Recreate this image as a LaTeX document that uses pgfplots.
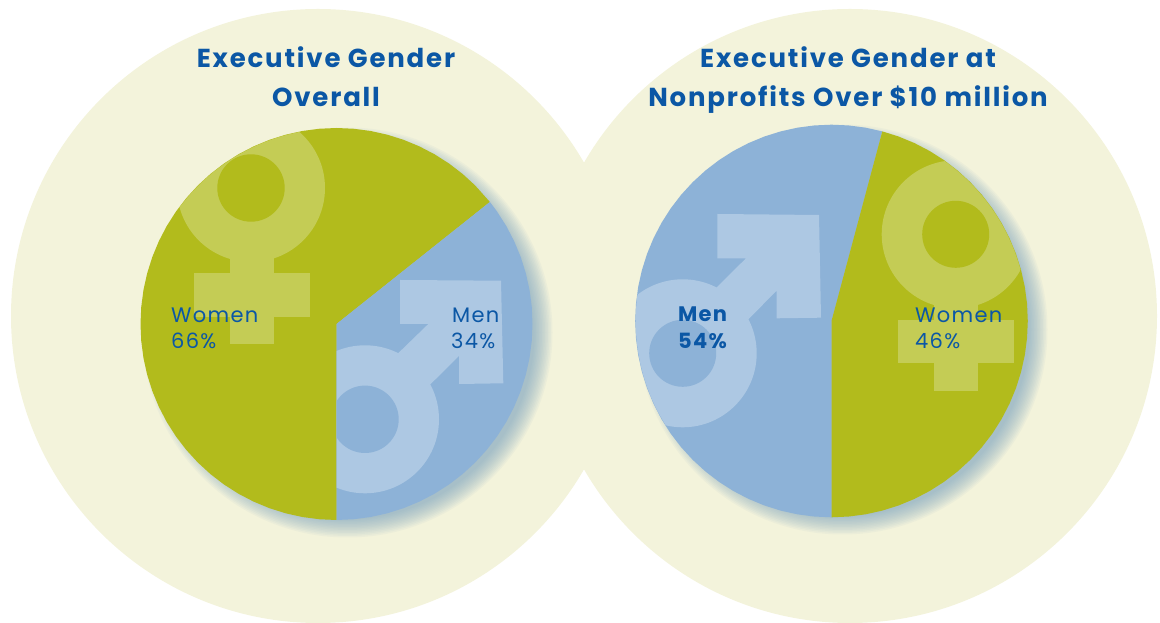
\documentclass[border=0pt]{standalone}
\usepackage{pgfplots}
\pgfplotsset{compat=1.18}
\usepackage{fontspec}
\setmainfont{Poppins}
\newfontfamily\ttl[LetterSpace=7]{Poppins}
\newfontfamily\lbl[LetterSpace=6]{Poppins}
\definecolor{bgc}{HTML}{F3F3DB}
\definecolor{gr}{HTML}{B2BB1C}
\definecolor{bl}{HTML}{8DB2D7}
\definecolor{lbl}{HTML}{ADC8E3}
\definecolor{lgr}{HTML}{C4CC55}
\definecolor{tx}{HTML}{0B57A5}
\definecolor{sh}{HTML}{6F9DBE}
\pgfplotstableread{
a r
0 0
38.5 196 
45 196 
50 196 
55 196 
60 196 
65 196 
70 196 
75 196 
80 196 
85 196 
90 196 
95 196 
100 196 
105 196 
110 196 
115 196 
120 196 
125 196 
130 196 
135 196 
140 196 
145 196 
150 196 
155 196 
160 196 
165 196 
170 196 
175 196 
180 196 
185 196 
190 196 
195 196 
200 196 
205 196 
210 196 
215 196 
220 196 
225 196 
230 196 
235 196 
240 196 
245 196 
250 196 
255 196 
260 196 
265 196 
270 196 
}\LeftWomen
\pgfplotstableread{
a r
0 0
270 196 
275 196 
280 196 
285 196 
290 196 
295 196 
300 196 
305 196 
310 196 
315 196 
320 196 
325 196 
330 196 
335 196 
340 196 
345 196 
350 196 
355 196 
360 196 
365 196 
370 196 
375 196 
380 196 
385 196 
390 196 
395 196 
398.5 196 
}\LeftMen
\pgfplotstableread{
a r
0 0
75 196.3
80 196.3
85 196.3
90 196.3
95 196.3
100 196.3
105 196.3
110 196.3
115 196.3
120 196.3
125 196.3
130 196.3
135 196.3
140 196.3
145 196.3
150 196.3
155 196.3
160 196.3
165 196.3
170 196.3
175 196.3
180 196.3
185 196.3
190 196.3
195 196.3
200 196.3
205 196.3
210 196.3
215 196.3
220 196.3
225 196.3
230 196.3
235 196.3
240 196.3
245 196.3
250 196.3
255 196.3
260 196.3
265 196.3
270 196.3
}\RightMen
\pgfplotstableread{
a r
0 0
270 196.3
275 196.3
280 196.3
285 196.3
290 196.3
295 196.3
300 196.3
305 196.3
310 196.3
315 196.3
320 196.3
325 196.3
330 196.3
335 196.3
340 196.3
345 196.3
350 196.3
355 196.3
360 196.3
365 196.3
370 196.3
375 196.3
380 196.3
385 196.3
390 196.3
395 196.3
400 196.3
405 196.3
410 196.3
415 196.3
420 196.3
425 196.3
430 196.3
435 196.3
}\RightWomen
\newcommand{\disc}[4]{\addplot[only marks,mark=*,mark size=#1pt,mark options={draw opacity=0,line width=0pt,fill=#2,fill opacity=#4}] coordinates {#3};}
\newcommand{\poly}[2]{\addplot[draw=none,fill=#1] coordinates {#2} --cycle;}
\begin{document}
\begin{tikzpicture}
\path[use as bounding box] (0,0) rectangle (1160pt,623pt);
\begin{axis}[at={(0,0)},anchor=south west,scale only axis,width=1160pt,height=623pt,xmin=0,xmax=1160,ymin=-623,ymax=0,hide axis,clip mode=individual]
% background circles
\disc{307}{bgc}{(318,-316)}{1}
\disc{307}{bgc}{(850,-316)}{1}
% shadows
\foreach \rr in {205,203.5,202,200.5,199,197.5,196,194.5,193,191.5,190,188.5,187}{
  \edef\tmp{\noexpand\disc{\rr}{sh}{(347.5,-332.5)}{0.06}}\tmp
  \edef\tmp{\noexpand\disc{\rr}{sh}{(842.5,-329.5)}{0.06}}\tmp
}
% left pie
\addplot[draw=none,fill=gr,data cs=polar,xshift=336.5pt,yshift=-324pt,clip=false] table[x=a,y=r]{\LeftWomen} --cycle;
\addplot[draw=none,fill=bl,data cs=polar,xshift=336.5pt,yshift=-324pt,clip=false] table[x=a,y=r]{\LeftMen} --cycle;
% right pie
\addplot[draw=none,fill=bl,data cs=polar,xshift=831.5pt,yshift=-321pt,clip=false] table[x=a,y=r]{\RightMen} --cycle;
\addplot[draw=none,fill=gr,data cs=polar,xshift=831.5pt,yshift=-321pt,clip=false] table[x=a,y=r]{\RightWomen} --cycle;
% left female
\begin{scope}
\clip (axis cs:336.5,-324) circle[radius=195.5];
\clip (axis cs:336.5,-324) -- (axis cs:336.5,-540) -- (axis cs:100,-540) -- (axis cs:100,-100) -- (axis cs:566.75,-100) -- (axis cs:566.75,-141) -- cycle;
\disc{74}{lgr}{(251,-188)}{1}
\disc{33.7}{gr}{(251,-188)}{1}
\poly{lgr}{(230,-255) (274,-255) (274,-344) (230,-344)}
\poly{lgr}{(194,-273.3) (310,-273.3) (310,-317.3) (194,-317.3)}
\end{scope}
% left male
\begin{scope}
\clip (axis cs:336.5,-324) circle[radius=195.5];
\clip (axis cs:336.5,-324) -- (axis cs:566.75,-141) -- (axis cs:566.75,-540) -- (axis cs:336.5,-540) -- cycle;
\disc{74}{lbl}{(365,-419.3)}{1}
\disc{33.7}{bl}{(365,-419.3)}{1}
\poly{lbl}{(400,-280) (501,-280.7) (503.3,-383.3) (459,-384) (459,-356) (430.7,-384) (415,-395) (385,-365) (398.7,-352.7) (428.3,-324) (400,-324)}
\end{scope}
% right female
\begin{scope}
\clip (axis cs:831.5,-321) circle[radius=195.8];
\clip (axis cs:831.5,-321) -- (axis cs:891.7,-94) -- (axis cs:1060,-94) -- (axis cs:1060,-540) -- (axis cs:831.5,-540) -- cycle;
\disc{74}{lgr}{(955.7,-234.3)}{1}
\disc{33.5}{gr}{(955.7,-234.3)}{1}
\poly{lgr}{(934,-300) (978.3,-300) (978.3,-390.7) (934,-390.7)}
\poly{lgr}{(898.3,-320) (1014,-320) (1014,-363.3) (898.3,-363.3)}
\end{scope}
% right male
\begin{scope}
\clip (axis cs:831.5,-321) circle[radius=195.8];
\clip (axis cs:831.5,-321) -- (axis cs:891.7,-94) -- (axis cs:600,-94) -- (axis cs:600,-540) -- (axis cs:831.5,-540) -- cycle;
\disc{74}{lbl}{(682.7,-353.3)}{1}
\disc{33.5}{bl}{(682.7,-353.3)}{1}
\poly{lbl}{(717.3,-214) (819,-215) (821,-317.7) (776.7,-318.3) (776.7,-290.7) (748.3,-319.3) (730,-335) (700,-305) (716.7,-287.3) (746,-258.3) (717.3,-258.3)}
\end{scope}
% titles
\node[text=tx,anchor=base] at (axis cs:326,-68) {\fontsize{26}{30}\selectfont\ttl\bfseries Executive Gender};
\node[text=tx,anchor=base] at (axis cs:326,-107) {\fontsize{26}{30}\selectfont\ttl\bfseries Overall};
\node[text=tx,anchor=base] at (axis cs:848,-68) {\fontsize{26}{30}\selectfont\ttl\bfseries Executive Gender at};
\node[text=tx,anchor=base] at (axis cs:848,-107) {\fontsize{26}{30}\selectfont\ttl\bfseries Nonprofits Over \$10 million};
% labels
\node[text=tx,anchor=base west,inner sep=0pt] at (axis cs:171,-323) {\fontsize{21}{24}\selectfont\lbl Women};
\node[text=tx,anchor=base west,inner sep=0pt] at (axis cs:171,-349) {\fontsize{21}{24}\selectfont\lbl 66\%};
\node[text=tx,anchor=base west,inner sep=0pt] at (axis cs:452,-323) {\fontsize{21}{24}\selectfont\lbl Men};
\node[text=tx,anchor=base west,inner sep=0pt] at (axis cs:451,-349) {\fontsize{21}{24}\selectfont\lbl 34\%};
\node[text=tx,anchor=base west,inner sep=0pt] at (axis cs:678,-322) {\fontsize{21}{24}\selectfont\lbl\bfseries Men};
\node[text=tx,anchor=base west,inner sep=0pt] at (axis cs:678,-349) {\fontsize{21}{24}\selectfont\lbl\bfseries 54\%};
\node[text=tx,anchor=base west,inner sep=0pt] at (axis cs:915,-323) {\fontsize{21}{24}\selectfont\lbl Women};
\node[text=tx,anchor=base west,inner sep=0pt] at (axis cs:915,-349) {\fontsize{21}{24}\selectfont\lbl 46\%};
\end{axis}
\end{tikzpicture}
\end{document}
